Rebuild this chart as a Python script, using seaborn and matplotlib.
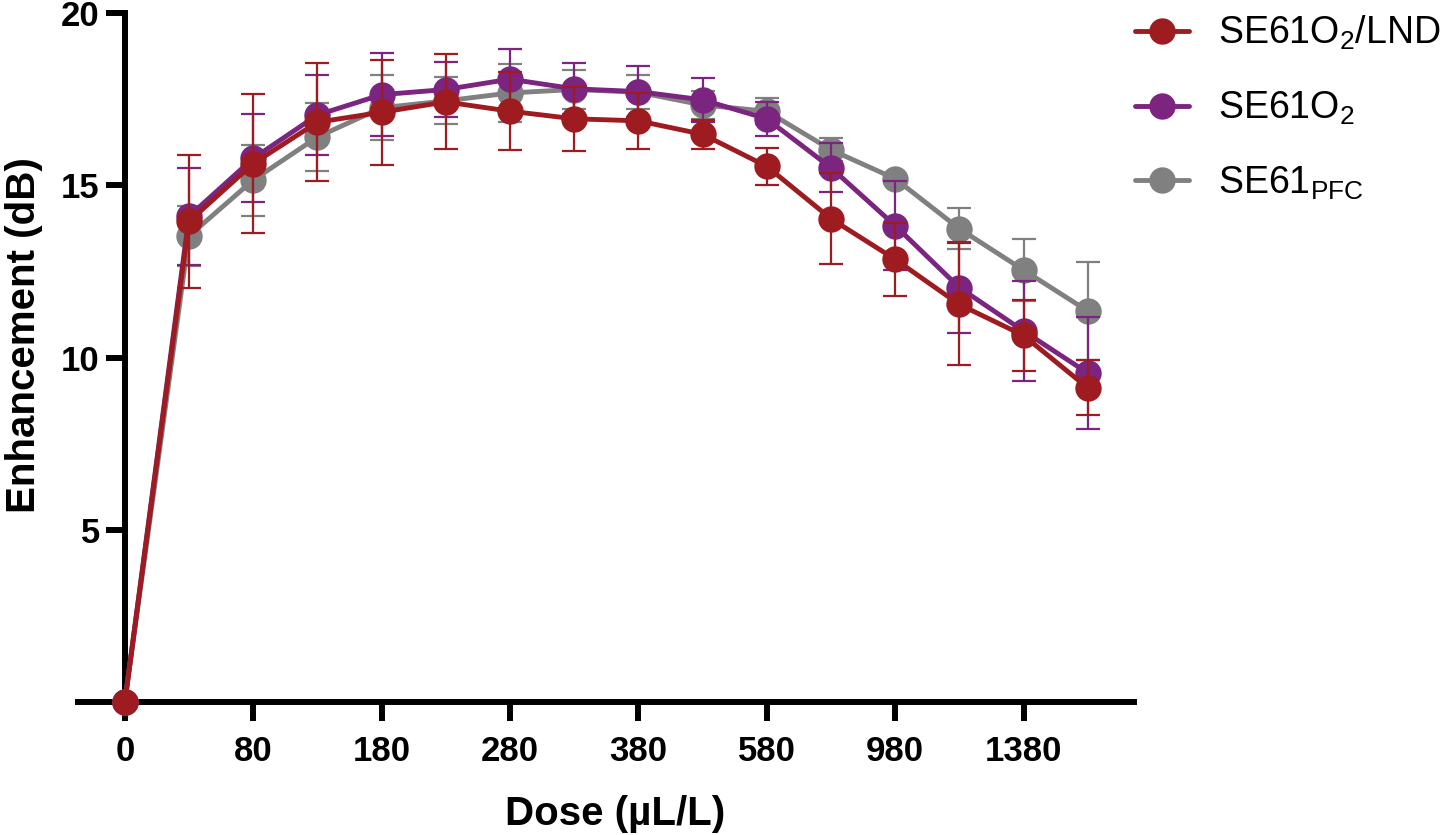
import numpy as np
import pandas as pd
import matplotlib
matplotlib.use("Agg")
import matplotlib.pyplot as plt
import seaborn as sns
from matplotlib.lines import Line2D

# x tick labels (dose, uL/L) - one label on every second point
tick_labels = ["0", "80", "180", "280", "380", "580", "980", "1380"]

# series: mean enhancement (dB) and SD at each dose step
lnd_mean = [0, 13.95, 15.63, 16.83, 17.12, 17.42, 17.15, 16.93, 16.87, 16.48, 15.55, 14.03, 12.85, 11.54, 10.64, 9.12]
lnd_sd = [0, 1.92, 2.02, 1.72, 1.52, 1.38, 1.13, 0.93, 0.82, 0.42, 0.53, 1.32, 1.06, 1.77, 1.02, 0.80]

o2_mean = [0, 14.10, 15.78, 17.04, 17.63, 17.78, 18.08, 17.80, 17.72, 17.48, 16.93, 15.51, 13.83, 12.03, 10.77, 9.55]
o2_sd = [0, 1.41, 1.28, 1.15, 1.20, 0.80, 0.87, 0.74, 0.75, 0.64, 0.50, 0.71, 1.29, 1.33, 1.46, 1.62]

pfc_mean = [0, 13.53, 15.15, 16.40, 17.25, 17.45, 17.68, 17.78, 17.70, 17.33, 17.15, 16.03, 15.19, 13.74, 12.54, 11.35]
pfc_sd = [0, 0.87, 1.03, 0.98, 0.95, 0.68, 0.85, 0.58, 0.50, 0.40, 0.37, 0.33, 0.12, 0.60, 0.91, 1.42]

series_names = ["SE61O2/LND", "SE61O2", "SE61PFC"]
legend_labels = [r"SE61O$_\mathregular{2}$/LND", r"SE61O$_\mathregular{2}$", r"SE61$_\mathregular{PFC}$"]
colors = {"SE61O2/LND": "#9E1B20", "SE61O2": "#7B2480", "SE61PFC": "#808080"}

means = {"SE61O2/LND": lnd_mean, "SE61O2": o2_mean, "SE61PFC": pfc_mean}
sds = {"SE61O2/LND": lnd_sd, "SE61O2": o2_sd, "SE61PFC": pfc_sd}

# long table for seaborn
rows = []
for name in series_names:
    for i, (m, s) in enumerate(zip(means[name], sds[name])):
        rows.append({"pos": i, "value": m, "sd": s, "series": name})
df = pd.DataFrame(rows)

sns.set_style("ticks")
plt.rcParams["font.family"] = ["Liberation Sans", "DejaVu Sans"]
plt.rcParams["mathtext.fontset"] = "custom"
plt.rcParams["mathtext.rm"] = "Liberation Sans"
plt.rcParams["mathtext.it"] = "Liberation Sans:italic"
plt.rcParams["mathtext.bf"] = "Liberation Sans:bold"
for key in ["text.color", "axes.labelcolor", "xtick.color", "ytick.color"]:
    plt.rcParams[key] = "black"

fig = plt.figure(figsize=(14.41, 8.35), dpi=100)
ax = fig.add_axes([0.0541, 0.1593, 0.7328, 0.8251])

# draw grey first, red last (red on top)
draw_order = ["SE61PFC", "SE61O2", "SE61O2/LND"]
for k, name in enumerate(draw_order):
    sub = df[df["series"] == name]
    ax.errorbar(sub["pos"], sub["value"], yerr=sub["sd"], fmt="none",
                ecolor=colors[name], elinewidth=1.6, capsize=8.5, capthick=1.6,
                zorder=3 + 2 * k, clip_on=False)
    sns.lineplot(data=sub, x="pos", y="value", color=colors[name], lw=3.5,
                 marker="o", markersize=19, markeredgewidth=0, ax=ax,
                 errorbar=None, legend=False, zorder=4 + 2 * k)

for ln in ax.lines:
    ln.set_clip_on(False)

ax.set_xlim(-0.73, 15.72)
ax.set_ylim(0, 20)
ax.set_xticks(np.arange(0, 2 * len(tick_labels), 2))
ax.set_xticklabels(tick_labels)
ax.set_yticks([5, 10, 15, 20])
ax.set_yticklabels(["5", "10", "15", "20"])

for side in ["top", "right"]:
    ax.spines[side].set_visible(False)
ax.spines["left"].set_position(("data", 0))
for side in ["left", "bottom"]:
    ax.spines[side].set_linewidth(4.3)
    ax.spines[side].set_color("black")
ax.tick_params(axis="both", length=14, width=4.3, color="black")
ax.tick_params(axis="x", pad=10, labelsize=25)
ax.tick_params(axis="y", pad=4, labelsize=25)
for lab in ax.get_xticklabels() + ax.get_yticklabels():
    lab.set_fontweight("bold")

ax.set_xlabel("Dose (µL/L)", fontsize=29, fontweight="bold")
ax.set_ylabel("Enhancement (dB)", fontsize=29, fontweight="bold")
ax.xaxis.set_label_coords(0.5085, -0.135)
ax.yaxis.set_label_coords(-0.033, 0.533)

handles = [Line2D([], [], color=colors[n], lw=3.5, marker="o", markersize=19,
                  markeredgewidth=0) for n in series_names]
fig.legend(handles, legend_labels, loc="upper left",
           bbox_to_anchor=(1135 / 1441, 1 - 14 / 835), frameon=False,
           fontsize=27, handlelength=1.45, handletextpad=0.75,
           labelspacing=1.0, borderpad=0, borderaxespad=0)

fig.savefig("out.png", dpi=100)
